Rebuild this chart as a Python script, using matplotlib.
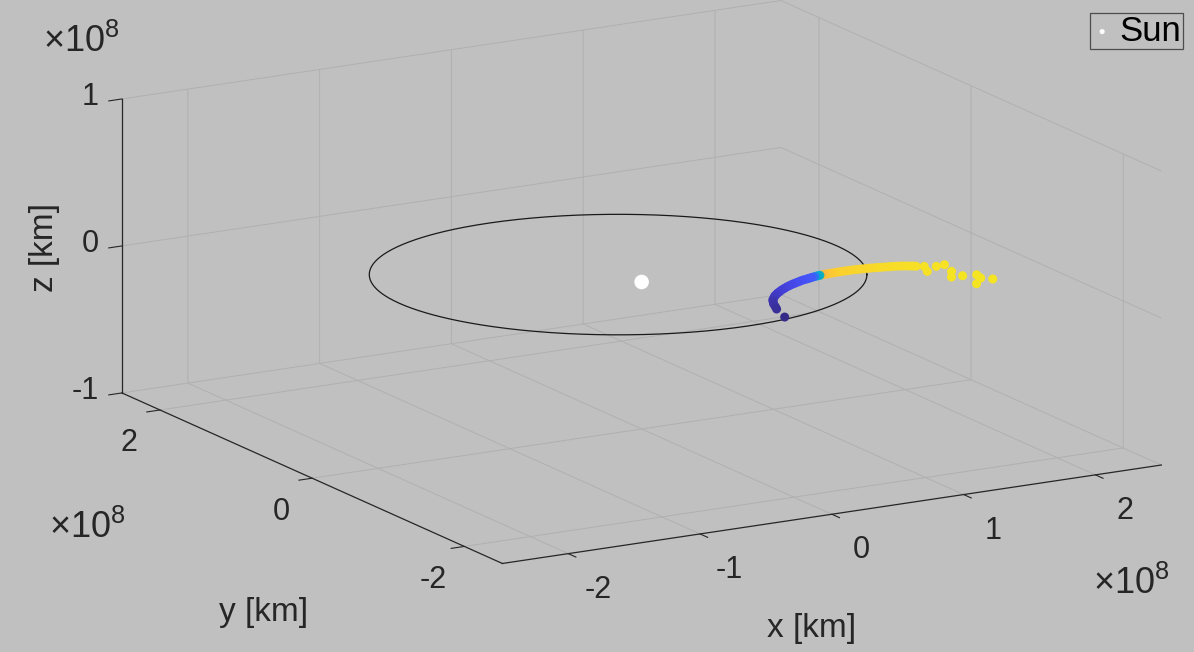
import numpy as np
import matplotlib
matplotlib.use("Agg")
import matplotlib.pyplot as plt
from matplotlib.colors import LinearSegmentedColormap
from matplotlib.ticker import FuncFormatter

plt.rcParams['font.family'] = ['Liberation Sans', 'DejaVu Sans']
plt.rcParams['mathtext.fontset'] = 'custom'
plt.rcParams['mathtext.rm'] = 'Liberation Sans'
plt.rcParams['mathtext.it'] = 'Liberation Sans:italic'

KM = 1e8  # axis unit

# heliocentric track of the object, in 1e8 km
track_x = [0.369, 0.425, 0.449, 0.472, 0.495, 0.518, 0.549, 0.580, 0.608, 0.636,
           0.667, 0.697, 0.731, 0.764, 0.795, 0.825, 0.852, 0.879, 0.907, 0.934,
           0.958, 0.982, 1.006, 1.030, 1.054, 1.078, 1.099, 1.119, 1.140, 1.161,
           1.185, 1.208, 1.232, 1.255, 1.282, 1.308, 1.335, 1.361, 1.386, 1.411,
           1.436, 1.460, 1.484, 1.508, 1.531, 1.554, 1.578, 1.601, 1.625, 1.648,
           1.670, 1.691, 1.711, 1.731, 1.747, 1.763, 1.806, 1.760, 1.875, 1.943,
           1.898, 1.826, 1.906, 1.999, 1.980, 1.884, 2.036]
track_y = [-1.241, -1.038, -0.978, -0.918, -0.872, -0.826, -0.786, -0.745, -0.717, -0.688,
           -0.662, -0.635, -0.610, -0.585, -0.566, -0.547, -0.533, -0.519, -0.505, -0.491,
           -0.483, -0.475, -0.467, -0.458, -0.450, -0.442, -0.439, -0.436, -0.433, -0.430,
           -0.429, -0.428, -0.427, -0.426, -0.427, -0.427, -0.428, -0.428, -0.432, -0.436,
           -0.440, -0.443, -0.448, -0.453, -0.459, -0.465, -0.471, -0.477, -0.483, -0.489,
           -0.499, -0.508, -0.520, -0.531, -0.543, -0.555, -0.586, -0.706, -0.625, -0.614,
           -0.785, -0.909, -0.917, -0.941, -1.027, -1.139, -1.088]
track_z = [0.0] * len(track_x)
# colour value along the track (normalised)
track_c = [0.000, 0.015, 0.020, 0.025, 0.030, 0.035, 0.040, 0.045, 0.050, 0.055,
           0.060, 0.065, 0.070, 0.075, 0.080, 0.085, 0.090, 0.095, 0.100, 0.105,
           0.110, 0.115, 0.120, 0.130, 0.200, 0.400, 0.450, 0.840, 0.860, 0.880,
           0.890, 0.900, 0.905, 0.910, 0.910, 0.915, 0.915, 0.920, 0.920, 0.920,
           0.925, 0.925, 0.925, 0.930, 0.930, 0.930, 0.930, 0.935, 0.935, 0.935,
           0.935, 0.940, 0.940, 0.940, 0.940, 0.940, 0.945, 0.945, 0.945, 0.945,
           0.950, 0.950, 0.950, 0.950, 0.950, 0.950, 0.950]

# reference orbit in the ecliptic plane, in 1e8 km
orbit_center = (-0.04, 0.24)
orbit_semi_axes = (1.635, 1.53)
orbit_angle_deg = -30.0

sun_pos = (0.0, 0.0, 0.0)

BG = '#c0c0c0'
GRID = '#b0b0b0'
AXIS = '#262626'

parula = LinearSegmentedColormap.from_list('parula', [
    (0.00, (0.208, 0.166, 0.529)), (0.05, (0.263, 0.237, 0.810)),
    (0.10, (0.278, 0.314, 0.958)), (0.15, (0.234, 0.400, 0.990)),
    (0.20, (0.149, 0.475, 0.945)), (0.30, (0.076, 0.563, 0.880)),
    (0.40, (0.024, 0.650, 0.812)), (0.50, (0.098, 0.720, 0.680)),
    (0.60, (0.330, 0.780, 0.500)), (0.70, (0.620, 0.790, 0.290)),
    (0.80, (0.870, 0.740, 0.190)), (0.85, (0.980, 0.730, 0.240)),
    (0.90, (0.990, 0.800, 0.190)), (0.95, (0.960, 0.890, 0.140)),
    (1.00, (0.976, 0.983, 0.054))])

fig = plt.figure(figsize=(11.94, 6.52), dpi=100, facecolor=BG)
ax = fig.add_axes([0.030, 0.054, 1, 1], projection='3d', facecolor=BG)
ax.set_proj_type('ortho')
ax.view_init(elev=15, azim=-120)
ax.set_box_aspect((5, 5, 2), zoom=1.665)

# orbit ellipse
t = np.linspace(0, 2 * np.pi, 400)
ang = np.deg2rad(orbit_angle_deg)
ex = orbit_semi_axes[0] * np.cos(t)
ey = orbit_semi_axes[1] * np.sin(t)
ox = orbit_center[0] + ex * np.cos(ang) - ey * np.sin(ang)
oy = orbit_center[1] + ex * np.sin(ang) + ey * np.cos(ang)
ax.plot(ox * KM, oy * KM, np.zeros_like(ox), color='#1a1a1a', lw=0.9, clip_on=False)

# sun
ax.scatter([sun_pos[0]], [sun_pos[1]], [sun_pos[2]], s=110, c='white',
           edgecolors='none', depthshade=False, label='Sun', clip_on=False)

# track coloured along its length
ax.scatter(np.array(track_x) * KM, np.array(track_y) * KM, np.array(track_z) * KM,
           c=track_c, cmap=parula, vmin=0, vmax=1, s=42, edgecolors='none',
           depthshade=False, clip_on=False)

ax.set_xlim(-2.5 * KM, 2.5 * KM)
ax.set_ylim(-2.5 * KM, 2.5 * KM)
ax.set_zlim(-1 * KM, 1 * KM)
ax.set_xticks(np.array([-2, -1, 0, 1, 2]) * KM)
ax.set_yticks(np.array([-2, 0, 2]) * KM)
ax.set_zticks(np.array([-1, 0, 1]) * KM)

fmt = FuncFormatter(lambda v, pos: f'{v / KM:g}')
for axis in (ax.xaxis, ax.yaxis, ax.zaxis):
    axis.set_major_formatter(fmt)
    axis.set_pane_color((0, 0, 0, 0))
    axis.pane.set_edgecolor((0, 0, 0, 0))
    axis.line.set_color(AXIS)
    axis.line.set_linewidth(0.9)
    axis._axinfo['grid'].update(color=GRID, linewidth=0.7)
    axis._axinfo['tick'].update(inward_factor=0.25, outward_factor=0.0)
    axis._axinfo['tick']['color'] = AXIS
    axis.set_tick_params(labelsize=22, colors='#262626')

ax.xaxis.set_tick_params(pad=11)
ax.zaxis.set_tick_params(pad=-2.6)
for lab in ax.get_xticklabels():
    lab.set_va('center')
for lab in ax.get_zticklabels():
    lab.set_ha('right')
    lab.set_va('center')

# axis labels and exponent markers
fs = 24
fig.text(45 / 1194, 1 - 248 / 652, 'z [km]', rotation=90, ha='center', va='center', fontsize=fs, color='#262626')
fig.text(264 / 1194, 1 - 612 / 652, 'y [km]', ha='center', va='center', fontsize=fs, color='#262626')
fig.text(812 / 1194, 1 - 628 / 652, 'x [km]', ha='center', va='center', fontsize=fs, color='#262626')
for px, py in [(81, 42), (87, 528), (1131, 584)]:
    fig.text(px / 1194, 1 - py / 652, r'$\times10^{8}$', ha='center', va='center',
             fontsize=26, color='#262626')

leg = ax.legend(loc='upper right', bbox_to_anchor=(1183 / 1194, 1 - 13 / 652),
                bbox_transform=fig.transFigure, fontsize=25, markerscale=0.35,
                fancybox=False, framealpha=1, facecolor=BG, edgecolor='#4d4d4d',
                handletextpad=0.2, handlelength=0.6, borderpad=0.05, borderaxespad=0)
leg.get_frame().set_linewidth(0.9)

fig.savefig('out.png', dpi=100, facecolor=BG)
